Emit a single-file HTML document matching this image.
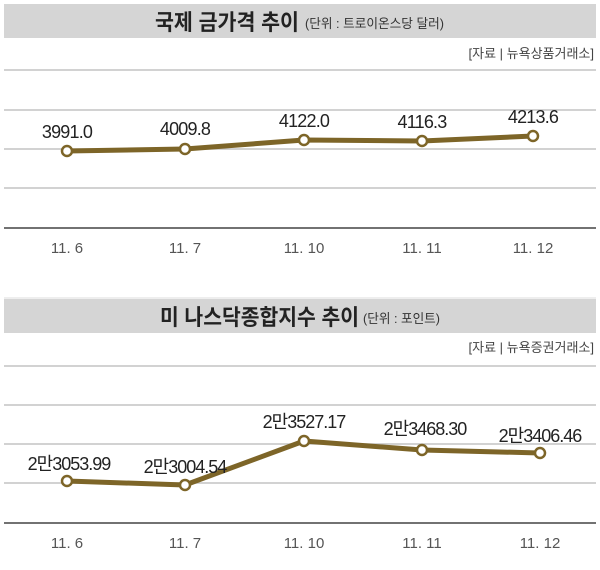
<!DOCTYPE html>
<html><head><meta charset="utf-8"><style>
html,body{margin:0;padding:0;background:#fff;}
svg{display:block;}
text{font-family:"Liberation Sans","Noto Sans CJK KR",sans-serif;}
</style></head><body>
<svg width="600" height="570" viewBox="0 0 600 570" xmlns="http://www.w3.org/2000/svg">
<!-- Chart 1 -->
<rect x="4" y="4" width="592" height="34" fill="#d5d5d5"/>
<text x="155" y="30" font-size="22" font-weight="bold" fill="#222" textLength="144" lengthAdjust="spacingAndGlyphs" font-family="'Noto Sans CJK KR',sans-serif">국제 금가격 추이</text>
<text x="305" y="28" font-size="13" fill="#333" textLength="139" lengthAdjust="spacingAndGlyphs" font-family="'Noto Sans CJK KR',sans-serif">(단위 : 트로이온스당 달러)</text>
<text x="594" y="58" font-size="13" fill="#444" text-anchor="end" font-family="'Noto Sans CJK KR',sans-serif">[자료 | 뉴욕상품거래소]</text>
<g stroke="#c4c4c4" stroke-width="1.5">
<line x1="4" y1="70" x2="596" y2="70"/><line x1="4" y1="110" x2="596" y2="110"/>
<line x1="4" y1="149" x2="596" y2="149"/><line x1="4" y1="188" x2="596" y2="188"/>
</g>
<line x1="4" y1="228" x2="596" y2="228" stroke="#444" stroke-width="1.5"/>
<polyline points="67,151 185,149 304,140 422,141 533,136" fill="none" stroke="#7d6528" stroke-width="5" stroke-linejoin="round"/>
<g fill="#fff" stroke="#7d6528" stroke-width="2.5">
<circle cx="67" cy="151" r="5"/><circle cx="185" cy="149" r="5"/><circle cx="304" cy="140" r="5"/><circle cx="422" cy="141" r="5"/><circle cx="533" cy="136" r="5"/>
</g>
<g font-size="18" fill="#222" text-anchor="middle" letter-spacing="-0.8">
<text x="67" y="138">3991.0</text><text x="185" y="135">4009.8</text><text x="304" y="127">4122.0</text><text x="422" y="128">4116.3</text><text x="533" y="123">4213.6</text>
</g>
<g font-size="15" fill="#555" text-anchor="middle">
<text x="67" y="253">11. 6</text><text x="185" y="253">11. 7</text><text x="304" y="253">11. 10</text><text x="422" y="253">11. 11</text><text x="533" y="253">11. 12</text>
</g>
<line x1="4" y1="298" x2="596" y2="298" stroke="#ddd" stroke-width="1"/>
<!-- Chart 2 -->
<rect x="4" y="299" width="592" height="34" fill="#d5d5d5"/>
<text x="160" y="325" font-size="22" font-weight="bold" fill="#222" textLength="199" lengthAdjust="spacingAndGlyphs" font-family="'Noto Sans CJK KR',sans-serif">미 나스닥종합지수 추이</text>
<text x="363" y="323" font-size="13" fill="#333" textLength="77" lengthAdjust="spacingAndGlyphs" font-family="'Noto Sans CJK KR',sans-serif">(단위 : 포인트)</text>
<text x="594" y="352" font-size="13" fill="#444" text-anchor="end" font-family="'Noto Sans CJK KR',sans-serif">[자료 | 뉴욕증권거래소]</text>
<g stroke="#c4c4c4" stroke-width="1.5">
<line x1="4" y1="366" x2="596" y2="366"/><line x1="4" y1="405" x2="596" y2="405"/>
<line x1="4" y1="444" x2="596" y2="444"/><line x1="4" y1="483" x2="596" y2="483"/>
</g>
<line x1="4" y1="523" x2="596" y2="523" stroke="#444" stroke-width="1.5"/>
<polyline points="67,481 185,485 304,441 422,450 540,453" fill="none" stroke="#7d6528" stroke-width="5" stroke-linejoin="round"/>
<g fill="#fff" stroke="#7d6528" stroke-width="2.5">
<circle cx="67" cy="481" r="5"/><circle cx="185" cy="485" r="5"/><circle cx="304" cy="441" r="5"/><circle cx="422" cy="450" r="5"/><circle cx="540" cy="453" r="5"/>
</g>
<g font-size="18" fill="#222" text-anchor="middle" letter-spacing="-1" font-family="'Liberation Sans','Noto Sans CJK KR',sans-serif">
<text x="69" y="470">2만3053.99</text><text x="185" y="473">2만3004.54</text><text x="304" y="428">2만3527.17</text><text x="425" y="435">2만3468.30</text><text x="540" y="442">2만3406.46</text>
</g>
<g font-size="15" fill="#555" text-anchor="middle">
<text x="67" y="548">11. 6</text><text x="185" y="548">11. 7</text><text x="304" y="548">11. 10</text><text x="422" y="548">11. 11</text><text x="540" y="548">11. 12</text>
</g>
</svg>
</body></html>
